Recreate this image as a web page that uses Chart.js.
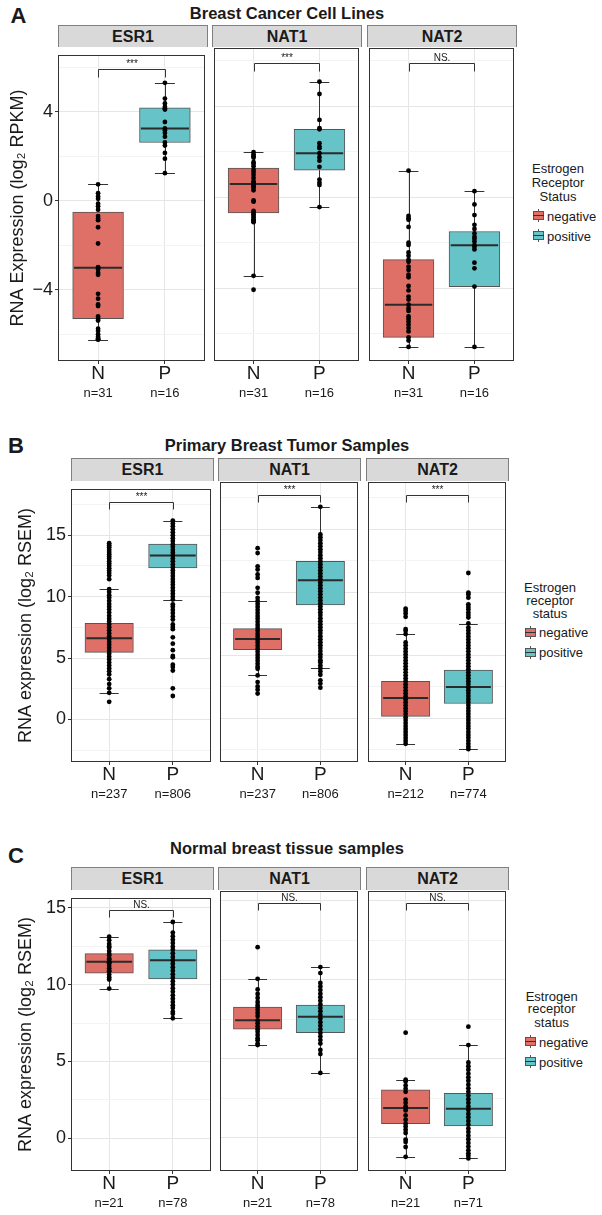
<!DOCTYPE html>
<html>
<head>
<meta charset="utf-8">
<script src="https://cdn.jsdelivr.net/npm/chart.js@4.4.1/dist/chart.umd.min.js"></script>
<style>
  body { margin: 0; background: #fff; }
  #fig { position: relative; width: 602px; height: 1215px; overflow: hidden;
         font-family: 'Liberation Sans', Arial, Helvetica, sans-serif; color: #1a1a1a; }
  #fig canvas { position: absolute; }
  .c { position: absolute; transform: translate(-50%, -50%); white-space: nowrap; line-height: 1; }
  .l { position: absolute; transform: translateY(-50%); white-space: nowrap; line-height: 1; }
  .strip { position: absolute; box-sizing: border-box; background: #d9d9d9; border: 1px solid #7f7f7f;
           border-bottom: none; display: flex; align-items: center; justify-content: center;
           font-weight: bold; font-size: 16px; }
</style>
</head>
<body>
<div id="fig"></div>
<script>
// categories
const groups = ['N', 'P'];
const genes = ['ESR1', 'NAT1', 'NAT2'];
const statusNames = ['negative', 'positive'];

const panelTitles = ['Breast Cancer Cell Lines', 'Primary Breast Tumor Samples', 'Normal breast tissue samples'];
const axisTitles = ['RNA Expression (log\u2082 RPKM)', 'RNA expression (log\u2082 RSEM)', 'RNA expression (log\u2082 RSEM)'];
const legendTitles = [['Estrogen', 'Receptor', 'Status'], ['Estrogen', 'receptor', 'status'], ['Estrogen', 'receptor', 'status']];

// --- A: cell lines ---  box stats = [lower whisker, q1, median, q3, upper whisker]
const cellTicks = [-6, -4, -2, 0, 2, 4, 6];
const cellCountsN = [31, 31, 31];
const cellCountsP = [16, 16, 16];
const cellSig = ['***', '***', 'NS.'];
const cellStatsN = [[-6.24, -5.30, -3.01, -0.51, 0.74], [-3.46, -0.69, 0.58, 1.28, 1.97], [-6.58, -6.16, -4.73, -2.75, 1.16]];
const cellStatsP = [[1.24, 2.62, 3.25, 4.18, 5.30], [-0.44, 1.18, 1.93, 2.98, 5.07], [-6.58, -3.93, -2.11, -1.51, 0.26]];
const cellEsr1N = [0.74, 0.34, 0.19, 0.09, -0.13, -0.25, -0.40, -0.69, -0.80, -0.87, -1.19, -1.92, -2.98, -3.01, -3.09,
  -3.23, -3.33, -4.18, -4.40, -4.66, -4.73, -5.20, -5.30, -5.38, -5.75, -5.85, -6.00, -6.11, -6.19, -6.24, -6.22];
const cellEsr1P = [5.30, 4.59, 4.37, 4.22, 4.15, 4.10, 3.54, 3.25, 3.17, 3.05, 2.88, 2.62, 2.48, 2.15, 1.89, 1.24];
const cellNat1N = [1.97, 1.87, 1.80, 1.73, 1.53, 1.45, 1.35, 1.20, 1.10, 0.98, 0.84, 0.70, 0.62, 0.58, 0.55, 0.48,
  0.41, 0.30, -0.15, -0.20, -0.61, -0.69, -0.75, -0.83, -0.90, -0.98, -1.02, -1.05, -1.10, -3.46, -4.07];
const cellNat1P = [5.07, 4.53, 3.39, 3.03, 2.98, 2.37, 2.22, 2.15, 1.93, 1.75, 1.60, 1.33, 0.77, 0.63, 0.53, -0.44];
const cellNat2N = [1.16, -0.83, -0.93, -1.31, -2.43, -2.58, -2.75, -2.84, -3.06, -3.20, -3.41, -3.52, -3.90, -4.10,
  -4.37, -4.50, -4.73, -4.88, -5.00, -5.24, -5.34, -5.46, -5.60, -5.75, -5.90, -6.16, -6.30, -6.58, -2.10, -1.00, -2.00];
const cellNat2P = [0.26, -0.32, -0.79, -1.22, -1.40, -1.60, -1.75, -1.83, -1.95, -2.11, -2.18, -2.30, -2.88, -3.13, -3.93, -6.58];

// --- B: primary tumours ---
const tumorTicks = [-2.5, 0, 2.5, 5, 7.5, 10, 12.5, 15, 17.5];
const tumorCountsN = [237, 237, 212];
const tumorCountsP = [806, 806, 774];
const tumorSig = ['***', '***', '***'];
const tumorStatsN = [[2.17, 5.46, 6.61, 7.82, 10.6], [3.41, 5.46, 6.30, 7.13, 9.32], [-2.02, 0.16, 1.62, 2.94, 6.69]];
const tumorStatsP = [[9.76, 12.33, 13.35, 14.27, 16.19], [3.98, 9.0, 10.97, 12.46, 16.79], [-2.44, 1.18, 2.49, 3.83, 7.53]];
const tumorEsr1N = [14.35, 14.18, 14.02, 13.81, 13.64, 13.45, 13.27, 13.1, 12.88, 12.7, 12.52, 12.31, 12.12, 11.93, 11.71, 11.42,
  10.6, 10.38, 10.12, 9.9, 9.66, 9.41, 9.17, 8.95, 8.7, 8.44, 8.2, 7.98, 7.73, 7.5, 7.26, 7.01, 6.78, 6.55, 6.3, 6.08,
  5.83, 5.6, 5.35, 5.11, 4.88, 4.63, 4.4, 4.16, 3.92, 3.67, 3.28, 2.88, 2.54, 2.17, 1.44];
const tumorEsr1P = [16.19, 15.95, 15.72, 15.48, 15.23, 15.0, 14.76, 14.52, 14.27, 14.05, 13.8, 13.57, 13.35, 13.1, 12.87,
  12.62, 12.4, 12.15, 11.92, 11.68, 11.43, 11.2, 10.96, 10.72, 10.48, 10.24, 10.0, 9.76, 9.37, 9.18, 8.92, 8.66, 8.39,
  8.13, 7.74, 7.53, 7.35, 6.69, 6.17, 5.64, 5.17, 5.06, 4.46, 4.28, 3.98, 2.54, 1.91];
const tumorNat1N = [13.51, 13.12, 12.07, 11.81, 11.42, 11.15, 10.36, 9.97, 9.57, 9.32, 9.08, 8.85, 8.6, 8.36, 8.12, 7.9,
  7.66, 7.41, 7.18, 6.95, 6.7, 6.47, 6.22, 6.0, 5.76, 5.51, 5.28, 5.04, 4.8, 4.57, 4.33, 4.1, 3.94, 3.41, 2.88, 2.54, 2.28, 1.97];
const tumorNat1P = [16.79, 14.6, 14.38, 14.15, 13.9, 13.66, 13.42, 13.2, 12.95, 12.71, 12.47, 12.24, 12.0, 11.76, 11.52,
  11.28, 11.05, 10.8, 10.57, 10.33, 10.1, 9.85, 9.61, 9.38, 9.14, 8.9, 8.67, 8.43, 8.2, 7.95, 7.71, 7.48, 7.24, 7.0, 6.77,
  6.52, 6.29, 6.05, 5.81, 5.58, 5.34, 5.1, 4.87, 4.62, 4.46, 4.2, 3.98, 3.72, 3.46, 3.02, 2.76, 2.44];
const tumorNat2N = [8.71, 8.53, 8.32, 8.06, 7.09, 6.96, 6.69, 6.03, 5.8, 5.55, 5.31, 5.08, 4.84, 4.6, 4.37, 4.13, 3.9,
  3.66, 3.42, 3.18, 2.95, 2.71, 2.47, 2.23, 2.0, 1.76, 1.52, 1.29, 1.05, 0.81, 0.58, 0.34, 0.1, -0.13, -0.37, -0.61,
  -0.84, -1.08, -1.31, -1.55, -1.79, -2.02];
const tumorNat2P = [11.54, 9.97, 9.84, 9.58, 9.05, 8.85, 8.65, 8.4, 8.2, 8.0, 7.53, 7.21, 6.98, 6.74, 6.5, 6.27, 6.03,
  5.79, 5.56, 5.32, 5.08, 4.85, 4.61, 4.37, 4.14, 3.9, 3.66, 3.43, 3.19, 2.95, 2.72, 2.48, 2.24, 2.01, 1.77, 1.53, 1.3,
  1.06, 0.82, 0.59, 0.35, 0.11, -0.12, -0.36, -0.6, -0.83, -1.07, -1.31, -1.54, -1.78, -2.02, -2.25, -2.44];

// --- C: normal tissue ---
const normalTicks = [0, 2.5, 5, 7.5, 10, 12.5, 15];
const normalCountsN = [21, 21, 21];
const normalCountsP = [78, 78, 71];
const normalSig = ['NS.', 'NS.', 'NS.'];
const normalStatsN = [[9.74, 10.75, 11.49, 12.01, 13.1], [5.86, 6.87, 7.43, 8.27, 10.06], [-1.22, 0.88, 1.87, 3.02, 3.67]];
const normalStatsP = [[7.81, 10.37, 11.59, 12.26, 14.07], [4.1, 6.65, 7.66, 8.4, 10.81], [-1.32, 0.73, 1.83, 2.81, 5.86]];
const normalEsr1N = [13.11, 12.89, 12.64, 12.5, 12.39, 12.18, 12.0, 11.91, 11.7, 11.63, 11.49, 11.45, 11.38, 11.22,
  11.07, 10.9, 10.86, 10.65, 10.48, 10.33, 9.74];
const normalEsr1P = [14.07, 13.38, 13.15, 12.92, 12.7, 12.46, 12.26, 12.03, 11.8, 11.59, 11.36, 11.13, 10.9, 10.67,
  10.45, 10.22, 10.0, 9.77, 9.54, 9.3, 9.08, 8.86, 8.65, 8.48, 8.23, 8.1, 7.81];
const normalNat1N = [12.07, 10.06, 9.39, 9.1, 8.85, 8.6, 8.4, 8.27, 8.1, 7.9, 7.7, 7.43, 7.25, 7.05, 6.87, 6.7, 6.5,
  6.3, 6.17, 5.95, 5.86];
const normalNat1P = [10.81, 10.43, 9.8, 9.58, 9.35, 9.12, 8.9, 8.67, 8.44, 8.22, 8.0, 7.77, 7.54, 7.31, 7.08, 6.86,
  6.63, 6.4, 6.18, 5.96, 5.55, 5.29, 4.1];
const normalNat2N = [6.65, 3.67, 3.55, 3.3, 3.09, 2.9, 2.41, 2.2, 1.97, 1.87, 1.72, 1.4, 1.13, 0.88, 0.7, 0.5, 0.29,
  -0.13, -0.28, -0.6, -1.22];
const normalNat2P = [7.03, 5.86, 4.76, 4.52, 4.3, 4.05, 3.82, 3.6, 3.35, 3.12, 2.9, 2.66, 2.43, 2.2, 1.97, 1.74, 1.5,
  1.28, 1.05, 0.82, 0.58, 0.36, 0.12, -0.1, -0.34, -0.57, -0.8, -1.0, -1.15, -1.32];

const RED = '#DF7068';
const TEAL = '#66C3C7';
const GRID_MAJOR = '#E6E6E6';
const GRID_MINOR = '#F3F3F3';
const INK = '#1a1a1a';

Chart.defaults.font.family = "'Liberation Sans', Arial, Helvetica, sans-serif";
Chart.defaults.color = INK;

// layout of the three rows
const panels = [
  { letter: 'A', idx: 0, top: 46, bottom: 361, stripTop: 25, lefts: [58, 212, 367], width: 149,
    yMin: -7.2, yMax: 6.55, ticks: cellTicks, major: 4, statsN: cellStatsN, statsP: cellStatsP,
    pointsN: [cellEsr1N, cellNat1N, cellNat2N], pointsP: [cellEsr1P, cellNat1P, cellNat2P],
    countsN: cellCountsN, countsP: cellCountsP, sig: cellSig, bracket: 5.9, drop: 8,
    letterXY: [18.5, 16], titleY: 12.5, yTitleX: 18,
    legend: { cx: 558, lines: [168, 182, 196], keys: [215.7, 235.7], iconX: 533, labelX: 547 } },
  { letter: 'B', idx: 1, top: 480, bottom: 762, stripTop: 458, lefts: [71, 218, 366], width: 142,
    yMin: -3.46, yMax: 18.76, ticks: tumorTicks, major: 5, statsN: tumorStatsN, statsP: tumorStatsP,
    pointsN: [tumorEsr1N, tumorNat1N, tumorNat2N], pointsP: [tumorEsr1P, tumorNat1P, tumorNat2P],
    countsN: tumorCountsN, countsP: tumorCountsP, sig: tumorSig, bracket: 17.7, drop: 7,
    letterXY: [16, 445.5], titleY: 445, yTitleX: 26,
    legend: { cx: 550, lines: [587.3, 600, 612.7], keys: [632.3, 652.3], iconX: 525, labelX: 539 } },
  { letter: 'C', idx: 2, top: 889, bottom: 1171, stripTop: 867, lefts: [71, 218, 366], width: 142,
    yMin: -2.12, yMax: 15.63, ticks: normalTicks, major: 5, statsN: normalStatsN, statsP: normalStatsP,
    pointsN: [normalEsr1N, normalNat1N, normalNat2N], pointsP: [normalEsr1P, normalNat1P, normalNat2P],
    countsN: normalCountsN, countsP: normalCountsP, sig: normalSig, bracket: 14.85, drop: 7,
    letterXY: [16, 856], titleY: 848, yTitleX: 26,
    legend: { cx: 551.7, lines: [995.7, 1008.3, 1021.7], keys: [1041.7, 1061.7], iconX: 525, labelX: 539 } }
];

// whiskers, caps, medians, significance bracket and panel frame
const boxExtras = {
  id: 'boxExtras',
  afterDatasetDraw(chart, args) {
    if (args.index !== 0) return;
    const f = chart.canvas.facet;
    const xs = chart.scales.x, ys = chart.scales.y, ctx = chart.ctx;
    ctx.save();
    f.stats.forEach((s, i) => {
      const cx = Math.round(xs.getPixelForValue(i + 1)) + 0.5;
      ctx.strokeStyle = '#333';
      ctx.lineWidth = 1;
      ctx.beginPath();
      ctx.moveTo(cx, ys.getPixelForValue(s[3])); ctx.lineTo(cx, ys.getPixelForValue(s[4]));
      ctx.moveTo(cx, ys.getPixelForValue(s[1])); ctx.lineTo(cx, ys.getPixelForValue(s[0]));
      const c0 = xs.getPixelForValue(i + 1 - 0.15), c1 = xs.getPixelForValue(i + 1 + 0.15);
      [s[0], s[4]].forEach(v => {
        const py = Math.round(ys.getPixelForValue(v)) + 0.5;
        ctx.moveTo(c0, py); ctx.lineTo(c1, py);
      });
      ctx.stroke();
      ctx.lineWidth = 2;
      ctx.strokeStyle = '#2b2b2b';
      ctx.beginPath();
      const pm = ys.getPixelForValue(s[2]);
      ctx.moveTo(xs.getPixelForValue(i + 1 - 0.375) + 1, pm);
      ctx.lineTo(xs.getPixelForValue(i + 1 + 0.375) - 1, pm);
      ctx.stroke();
    });
    ctx.restore();
  },
  afterDraw(chart) {
    const f = chart.canvas.facet;
    const xs = chart.scales.x, ys = chart.scales.y, ctx = chart.ctx, a = chart.chartArea;
    ctx.save();
    const by = Math.round(ys.getPixelForValue(f.bracket)) + 0.5;
    const x1 = Math.round(xs.getPixelForValue(1)) + 0.5, x2 = Math.round(xs.getPixelForValue(2)) + 0.5;
    ctx.strokeStyle = '#333';
    ctx.lineWidth = 1;
    ctx.beginPath();
    ctx.moveTo(x1, by + f.drop); ctx.lineTo(x1, by); ctx.lineTo(x2, by); ctx.lineTo(x2, by + f.drop);
    ctx.stroke();
    ctx.fillStyle = INK;
    ctx.font = "10px 'Liberation Sans', Arial, sans-serif";
    ctx.textAlign = 'center';
    ctx.textBaseline = 'alphabetic';
    ctx.fillText(f.sig, (x1 + x2) / 2, by - 3);
    ctx.strokeStyle = '#333';
    ctx.strokeRect(Math.round(a.left) + 0.5, Math.round(a.top) + 0.5,
      Math.round(a.right - a.left) - 1, Math.round(a.bottom - a.top) - 1);
    ctx.restore();
  }
};

const fig = document.getElementById('fig');
function addDiv(cls, text, x, y, css) {
  const d = document.createElement('div');
  d.className = cls;
  d.textContent = text;
  d.style.left = x + 'px';
  d.style.top = y + 'px';
  if (css) d.style.cssText += css;
  fig.appendChild(d);
  return d;
}
function legendKey(x, y, color) {
  const w = document.createElement('div');
  w.style.cssText = `position:absolute;left:${x + 5}px;top:${y - 6.5}px;width:1px;height:13px;background:#555`;
  const b = document.createElement('div');
  b.style.cssText = `position:absolute;left:${x}px;top:${y - 4.5}px;width:11px;height:9px;box-sizing:border-box;` +
    `border:1px solid #555;background:${color}`;
  const m = document.createElement('div');
  m.style.cssText = `position:absolute;left:${x}px;top:${y - 0.5}px;width:11px;height:1.3px;background:#333`;
  fig.append(w, b, m);
}

const fmt = v => (v < 0 ? '\u2212' + Math.abs(v) : String(v));

panels.forEach(p => {
  addDiv('c', p.letter, p.letterXY[0], p.letterXY[1], 'font-weight:bold;font-size:22px;');
  addDiv('c', panelTitles[p.idx], 287, p.titleY, 'font-weight:bold;font-size:16.5px;');

  // legend
  legendTitles[p.idx].forEach((t, i) => addDiv('c', t, p.legend.cx, p.legend.lines[i], 'font-size:13px;'));
  statusNames.forEach((s, i) => {
    legendKey(p.legend.iconX, p.legend.keys[i], i === 0 ? RED : TEAL);
    addDiv('l', s, p.legend.labelX, p.legend.keys[i], 'font-size:13px;');
  });

  genes.forEach((gene, fi) => {
    const L = p.lefts[fi];
    const first = fi === 0;

    const strip = addDiv('strip', gene, L, p.stripTop);
    strip.style.width = (p.width + 1) + 'px';
    strip.style.height = (p.top - p.stripTop + 1) + 'px';

    const cl = first ? 0 : L - 2;
    const cw = L + p.width + 2 - cl;
    const ch = 2 + (p.bottom - p.top) + 21 + 30;
    const cv = document.createElement('canvas');
    cv.width = cw; cv.height = ch;
    cv.style.left = cl + 'px'; cv.style.top = (p.top - 2) + 'px';
    cv.style.width = cw + 'px'; cv.style.height = ch + 'px';
    fig.appendChild(cv);

    const sN = p.statsN[fi], sP = p.statsP[fi];
    cv.facet = { stats: [sN, sP], sig: p.sig[fi], bracket: p.bracket, drop: p.drop };
    const nLabels = ['n=' + p.countsN[fi], 'n=' + p.countsP[fi]];
    const isMajor = v => Math.abs(v % p.major) < 1e-9;
    const xTicks = s => { s.ticks = [{ value: 1 }, { value: 2 }]; };

    new Chart(cv, {
      type: 'bar',
      data: {
        datasets: [
          {
            type: 'bar',
            data: [{ x: 1, y: [sN[1], sN[3]] }, { x: 2, y: [sP[1], sP[3]] }],
            backgroundColor: [RED, TEAL],
            borderColor: '#555',
            borderWidth: 1,
            borderSkipped: false,
            barThickness: 0.75 * p.width / 2.2,
            grouped: false,
            order: 2
          },
          {
            type: 'scatter',
            data: p.pointsN[fi].map(v => ({ x: 1, y: v })).concat(p.pointsP[fi].map(v => ({ x: 2, y: v }))),
            pointRadius: 2.4,
            pointBackgroundColor: '#000',
            pointBorderWidth: 0,
            order: 1
          }
        ]
      },
      options: {
        responsive: false,
        devicePixelRatio: 1,
        animation: false,
        events: [],
        layout: { padding: { left: first ? 0 : 2, right: 2, top: 2, bottom: 0 } },
        plugins: { legend: { display: false }, tooltip: { enabled: false } },
        scales: {
          x: {
            type: 'linear', position: 'bottom', min: 0.4, max: 2.6, offset: false, weight: 0,
            afterBuildTicks: xTicks,
            afterFit: s => { s.height = 21; },
            grid: { offset: false, color: GRID_MAJOR, drawTicks: true, tickLength: 3, tickColor: '#333' },
            border: { display: false },
            ticks: { autoSkip: false, maxRotation: 0, padding: 0, color: INK,
                     font: { size: 19, lineHeight: 1 }, callback: v => groups[v - 1] }
          },
          x2: {
            type: 'linear', position: 'bottom', min: 0.4, max: 2.6, offset: false, weight: 1,
            afterBuildTicks: xTicks,
            afterFit: s => { s.height = 30; },
            grid: { display: false, offset: false },
            border: { display: false },
            ticks: { autoSkip: false, maxRotation: 0, padding: -3, color: INK,
                     font: { size: 13, lineHeight: 1 }, callback: v => nLabels[v - 1] }
          },
          y: {
            type: 'linear', min: p.yMin, max: p.yMax,
            afterBuildTicks: s => { s.ticks = p.ticks.map(v => ({ value: v })); },
            afterFit: s => { s.width = first ? L : 0; },
            grid: {
              color: c => (c.tick && isMajor(c.tick.value) ? GRID_MAJOR : GRID_MINOR),
              drawTicks: first, tickLength: 3,
              tickColor: c => (c.tick && isMajor(c.tick.value) ? '#333' : 'rgba(0,0,0,0)')
            },
            border: { display: false },
            ticks: { display: first, autoSkip: false, padding: 2, color: INK,
                     font: { size: 18, lineHeight: 1 },
                     callback: v => (isMajor(v) ? fmt(v) : '') },
            title: { display: first, text: axisTitles[p.idx], color: INK, font: { size: 18, lineHeight: 1.2 },
                     padding: { top: p.yTitleX - 10.8, bottom: 0 } }
          }
        }
      },
      plugins: [boxExtras]
    });
  });
});
</script>
</body>
</html>
